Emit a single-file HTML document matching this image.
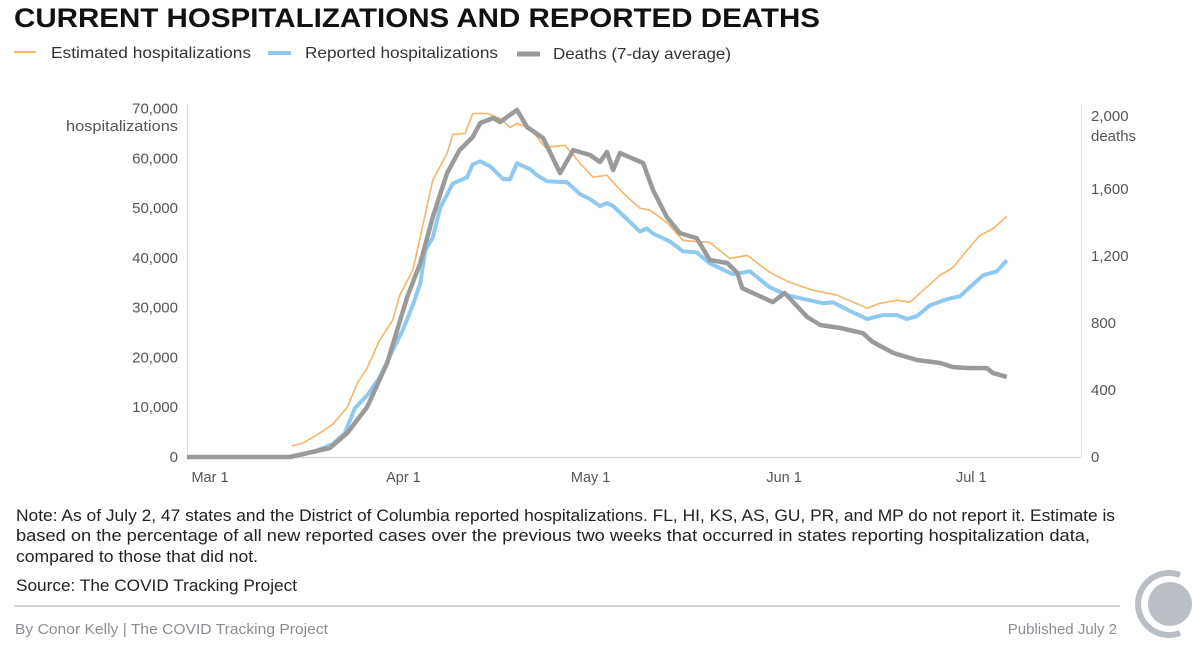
<!DOCTYPE html>
<html><head><meta charset="utf-8"><style>
html,body{margin:0;padding:0;background:#fff;}
svg{display:block;font-family:"Liberation Sans",Arial,sans-serif;}
</style></head><body>
<svg id="chart" width="1200" height="658" viewBox="0 0 1200 658" xmlns="http://www.w3.org/2000/svg">
<text x="14" y="27" font-size="27" font-weight="bold" fill="#111" textLength="806" lengthAdjust="spacingAndGlyphs">CURRENT HOSPITALIZATIONS AND REPORTED DEATHS</text>
<g font-size="16" fill="#333">
 <g><line x1="14" y1="52" x2="36" y2="52" stroke="#f7b469" stroke-width="2"/><text x="51" y="58" textLength="200" lengthAdjust="spacingAndGlyphs">Estimated hospitalizations</text></g>
 <g><line x1="268" y1="53" x2="291" y2="53" stroke="#8fc9f0" stroke-width="4"/><text x="305" y="58" textLength="193" lengthAdjust="spacingAndGlyphs">Reported hospitalizations</text></g>
 <g><line x1="517" y1="54" x2="540" y2="54" stroke="#999" stroke-width="5"/><text x="553" y="59" textLength="178" lengthAdjust="spacingAndGlyphs">Deaths (7-day average)</text></g>
</g>
<g id="axes"></g>
<g id="series"></g>
<g font-size="16.5" fill="#222">
 <text x="16" y="521" textLength="1099" lengthAdjust="spacingAndGlyphs">Note: As of July 2, 47 states and the District of Columbia reported hospitalizations. FL, HI, KS, AS, GU, PR, and MP do not report it. Estimate is</text>
 <text x="16" y="541" textLength="1074" lengthAdjust="spacingAndGlyphs">based on the percentage of all new reported cases over the previous two weeks that occurred in states reporting hospitalization data,</text>
 <text x="16" y="562" textLength="242" lengthAdjust="spacingAndGlyphs">compared to those that did not.</text>
</g>
<text x="16" y="591" font-size="17" fill="#222" textLength="281" lengthAdjust="spacingAndGlyphs">Source: The COVID Tracking Project</text>
<line x1="14" y1="606" x2="1120" y2="606" stroke="#c4c8cc" stroke-width="1.5"/>
<text x="15" y="634" font-size="15" fill="#8a8e93" textLength="313" lengthAdjust="spacingAndGlyphs">By Conor Kelly | The COVID Tracking Project</text>
<text x="1117" y="634" font-size="15" fill="#8a8e93" text-anchor="end">Published July 2</text>
<g>
 <path d="M1180 575 A31 31 0 1 0 1180 633" fill="none" stroke="#b9bfc4" stroke-width="6"/>
 <circle cx="1170" cy="604" r="22" fill="#b9bfc4"/>
</g>
</svg>
<script>
// x domain: days since Mar 1
const xTickLabels = ["Mar 1","Apr 1","May 1","Jun 1","Jul 1"];
const xTickDays = [0,31,61,92,122];
const hospTicks = [0,10000,20000,30000,40000,50000,60000,70000];
const deathTicks = [0,400,800,1200,1600,2000];

const estDays = [13.1,14.9,17.1,19.7,22,23.6,25.2,27.2,29.3,30.4,32.5,34.1,35.7,38,38.9,40.9,42.1,44.4,46.5,48.1,49.2,51.3,53.7,56.9,59.3,61.4,63.6,66.2,68.9,70.5,73.2,75.8,80.1,83.3,86.1,89.7,92.9,96.6,100.5,105.3,107.4,110.1,112.2,114.3,117,119.1,121.3,123.4,125.5,127.7];
const estValues = [2200,2800,4400,6600,10000,14800,17900,23500,27500,32500,37500,46500,55600,61000,64800,65000,69000,69000,68000,66200,67000,66000,62200,62600,59000,56200,56600,53000,50000,49600,47100,43500,43100,39900,40500,37100,35100,33500,32500,29900,30900,31500,31100,33500,36500,38100,41500,44500,45900,48300];

const repDays = [12.8,16.5,19.7,21.6,23.2,25.2,27.2,29.3,30.9,32.5,33.7,34.5,35.7,36.9,38.9,41.2,42.1,43.3,44.9,47,48.1,49.2,51.3,52.4,54,57.2,59.3,60.9,62.5,63.6,64.6,66.8,68.9,70,71,73.7,75.8,78,80.1,83.8,86.5,89.7,92.5,94.6,98.2,99.8,102.6,105.3,107.9,110.1,111.7,113.3,115.4,118.1,120.2,122.3,123.9,126.1,127.7];
const repValues = [0,1000,2600,4800,9800,12400,16000,21500,25500,30500,34900,41500,44100,50100,54900,56200,58800,59400,58400,55800,55800,59000,57800,56600,55400,55200,52800,51800,50400,51000,50400,47800,45300,45900,44900,43300,41300,41100,38900,36700,37300,34100,32500,31900,30900,31100,29300,27700,28500,28500,27700,28300,30500,31700,32300,34700,36500,37300,39500];

const deathDays = [-3.7,12.8,19.2,22,25.2,28.4,31.6,33.7,35.7,38,40,42.1,43.3,45.4,46.5,49.2,50.8,53.4,56.1,58.2,60.9,62.5,63.6,64.6,65.7,69.4,71,73.2,75.3,78,80.1,82.9,84.5,85.3,87.7,90.2,92.1,95.7,97.8,101,104.6,106.2,109.5,113.3,117,119.1,121.8,124.5,125.5,127.7];
const deathValues = [0,0,54,143,299,561,955,1158,1433,1695,1832,1910,1994,2024,2000,2072,1970,1904,1695,1832,1803,1761,1821,1713,1815,1755,1594,1433,1337,1307,1176,1158,1099,1008,967,925,979,836,788,770,740,687,621,579,561,537,531,531,501,478];

const NS = "http://www.w3.org/2000/svg";
const x = d => 210 + d * 6.24;
const yH = v => 457 - v / 70000 * 348.5;
const yD = v => 457 - v / 2000 * 335;
function mk(tag, attrs, parent){ const e=document.createElementNS(NS,tag); for(const k in attrs) e.setAttribute(k,attrs[k]); parent.appendChild(e); return e; }
const axes = document.getElementById('axes');
const series = document.getElementById('series');

const base = mk('line',{x1:187,y1:457.5,x2:1081,y2:457.5,stroke:'#ddd','stroke-width':1.5},axes);


const ly = mk('line',{x1:187.5,y1:104,x2:187.5,y2:457,stroke:'#ddd','stroke-width':1},axes);


const ry = mk('line',{x1:1081.5,y1:104,x2:1081.5,y2:457,stroke:'#ddd','stroke-width':1},axes);



xTickLabels.forEach((t,i)=>{
  const e = mk('text',{x:x(xTickDays[i]),y:482,'font-size':14.5,fill:'#555','text-anchor':'middle'},axes);
  e.textContent = t;
  
  
});
hospTicks.forEach(v=>{
  const e = mk('text',{x:178,y:yH(v)+5,'font-size':15,fill:'#555','text-anchor':'end'},axes);
  e.textContent = v.toLocaleString('en-US');
  
  
});
const lt = mk('text',{x:178,y:131,'font-size':15,fill:'#555','text-anchor':'end',textLength:112,lengthAdjust:'spacingAndGlyphs'},axes);
lt.textContent='hospitalizations';


deathTicks.forEach(v=>{
  const e = mk('text',{x:1091,y:(v===2000?yD(v)-1:yD(v)+5),'font-size':15,fill:'#555'},axes);
  e.textContent = v.toLocaleString('en-US');
  
  
});
const rt = mk('text',{x:1091,y:141,'font-size':15,fill:'#555'},axes);
rt.textContent='deaths';



function path(days, vals, yf){ return days.map((d,i)=>(i?'L':'M')+x(d).toFixed(1)+' '+yf(vals[i]).toFixed(1)).join(''); }
const pE = mk('path',{d:path(estDays,estValues,yH),fill:'none',stroke:'#f7b469','stroke-width':1.6,'stroke-linejoin':'round'},series);


const pR = mk('path',{d:path(repDays,repValues,yH),fill:'none',stroke:'#8fc9f0','stroke-width':4,'stroke-linejoin':'round'},series);


const pD = mk('path',{d:path(deathDays,deathValues,yD),fill:'none',stroke:'#9a9a9a','stroke-width':4.5,'stroke-linejoin':'round'},series);


</script>
</body></html>
